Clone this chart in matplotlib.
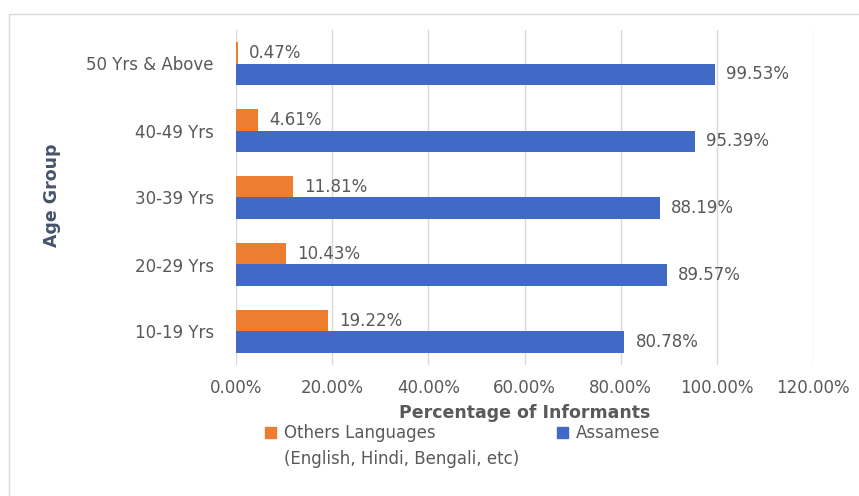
import matplotlib
matplotlib.use("Agg")
import matplotlib.pyplot as plt
from matplotlib.patches import Rectangle

# data, bottom to top
age_groups = ["10-19 Yrs", "20-29 Yrs", "30-39 Yrs", "40-49 Yrs", "50 Yrs & Above"]
others = [19.22, 10.43, 11.81, 4.61, 0.47]
assamese = [80.78, 89.57, 88.19, 95.39, 99.53]
xticks = [0, 20, 40, 60, 80, 100, 120]
legend_labels = ["Others Languages\n(English, Hindi, Bengali, etc)", "Assamese"]

orange = "#ED7D31"
blue = "#4169C6"
grey_txt = "#595959"

plt.rcParams["font.family"] = ["DejaVu Sans"]

fig = plt.figure(figsize=(8.59, 4.96), dpi=100)
ax = fig.add_axes([236 / 859, 1 - 365 / 496, (813 - 236) / 859, (365 - 30) / 496])

# outer chart border
fig.patches.append(Rectangle((9 / 859, -0.01), 1.0, 1 - 14 / 496 + 0.01,
                             transform=fig.transFigure, fill=False,
                             edgecolor="#D9D9D9", linewidth=1.0))

ypos = list(range(len(age_groups)))
h = 0.32
b1 = ax.barh([y + h / 2 for y in ypos], others, height=h, color=orange, zorder=3)
b2 = ax.barh([y - h / 2 for y in ypos], assamese, height=h, color=blue, zorder=3)

for bars, vals in ((b1, others), (b2, assamese)):
    for bar, v in zip(bars, vals):
        ax.annotate(f"{v:.2f}%", (v, bar.get_y() + bar.get_height() / 2),
                    xytext=(8, 0), textcoords="offset points",
                    va="center", ha="left", fontsize=12, color=grey_txt)

ax.set_xlim(0, 120)
ax.set_ylim(-0.5, len(age_groups) - 0.5)
ax.set_xticks(xticks)
ax.set_xticklabels([f"{t:.2f}%" for t in xticks])
ax.set_yticks(ypos)
ax.set_yticklabels(age_groups)
ax.tick_params(axis="both", length=0, labelsize=12, labelcolor=grey_txt)
ax.tick_params(axis="x", pad=10)
ax.tick_params(axis="y", pad=16)
ax.grid(axis="x", color="#D9D9D9", linewidth=1.0, zorder=0)
for s in ax.spines.values():
    s.set_visible(False)

ax.set_xlabel("Percentage of Informants", fontsize=12.5, fontweight="bold",
              color=grey_txt, labelpad=5)
fig.text(52 / 859, 1 - 195 / 496, "Age Group", rotation=90, ha="center",
         va="center", fontsize=12.5, fontweight="bold", color="#44546A")

# legend: square handles aligned with the first text line
legend_x = [265, 557]
colors = [orange, blue]
for lx, c, lab in zip(legend_x, colors, legend_labels):
    fig.patches.append(Rectangle((lx / 859, 1 - 438 / 496), 11 / 859, 11 / 496,
                                 transform=fig.transFigure, color=c))
    fig.text((lx + 19) / 859, 1 - 424 / 496, lab, ha="left", va="top",
             fontsize=12, color=grey_txt, linespacing=1.6)

fig.savefig("out.png", dpi=100)
